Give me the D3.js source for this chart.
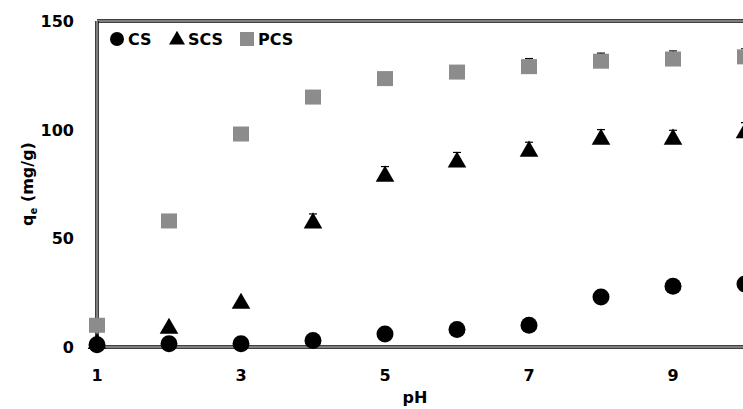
<!DOCTYPE html>
<html>
<head>
<meta charset="utf-8">
<script src="https://cdn.jsdelivr.net/npm/d3@7"></script>
<style>
  body { margin: 0; background: #fff; }
  text { font-family: "DejaVu Sans", sans-serif; font-weight: bold; }
</style>
</head>
<body>
<div id="chart"></div>
<script>
// data
var ph = [1, 2, 3, 4, 5, 6, 7, 8, 9, 10];
var cs = [1, 1.5, 1.5, 3, 6, 8, 10, 23, 28, 29];
var scs = [2, 9, 20.5, 57.5, 79, 85.5, 90.5, 96, 96, 99];
var pcs = [10, 58, 98, 115, 123.5, 126.5, 129, 131.5, 132.5, 133.5];
var scsErr = [0, 0, 0, 0.5, 0.8, 0.8, 0.5, 0.8, 0.5, 1];
var pcsErr = [0, 0, 0, 0, 0, 0, 0.5, 0.5, 0.5, 0.5];
var xTicks = [1, 3, 5, 7, 9];
var yTicks = [0, 50, 100, 150];

var svgWidth = 743, svgHeight = 409;
var svg = d3.select('#chart').append('svg')
  .attr('width', svgWidth).attr('height', svgHeight);

var x = d3.scaleLinear().domain([1, 11]).range([97, 817]);
var y = d3.scaleLinear().domain([0, 150]).range([347, 21]);

// y tick labels
svg.selectAll('.ytick').data(yTicks).enter().append('text')
  .attr('x', 74).attr('y', function(d) { return y(d) + 6; })
  .attr('text-anchor', 'end').style('font-size', '16px')
  .text(function(d) { return d; });

// x tick labels
svg.selectAll('.xtick').data(xTicks).enter().append('text')
  .attr('x', function(d) { return x(d); }).attr('y', 381)
  .attr('text-anchor', 'middle').style('font-size', '16px')
  .text(function(d) { return d; });

// axis titles
svg.append('text').attr('x', 415).attr('y', 403)
  .attr('text-anchor', 'middle').style('font-size', '16px').text('pH');
var yl = svg.append('text')
  .attr('transform', 'translate(33,' + 184 + ') rotate(-90)')
  .attr('text-anchor', 'middle').style('font-size', '16px');
yl.append('tspan').text('q');
yl.append('tspan').attr('dy', 4).style('font-size', '10px').text('e');
yl.append('tspan').attr('dy', -4).text(' (mg/g)');

// double frame lines
function dbl(x1, y1, x2, y2) {
  svg.append('line').attr('x1', x1).attr('y1', y1).attr('x2', x2).attr('y2', y2)
    .attr('stroke', '#000').attr('stroke-width', 3.5);
  svg.append('line').attr('x1', x1).attr('y1', y1).attr('x2', x2).attr('y2', y2)
    .attr('stroke', '#aaa').attr('stroke-width', 1.5);
}
dbl(x(1), y(150), 743, y(150));
dbl(x(1), y(150), x(1), y(0));
dbl(x(1), y(0), 743, y(0));

// error bars (top caps)
function errBars(vals, errs) {
  var g = svg.append('g');
  vals.forEach(function(v, i) {
    if (!errs[i]) return;
    var top = y(v + errs[i]) - 7;
    g.append('line').attr('x1', x(ph[i])).attr('x2', x(ph[i]))
      .attr('y1', y(v)).attr('y2', top).attr('stroke', '#000');
    g.append('line').attr('x1', x(ph[i]) - 4).attr('x2', x(ph[i]) + 4)
      .attr('y1', top).attr('y2', top)
      .attr('stroke', '#000').attr('stroke-width', 1.2);
  });
}
errBars(scs, scsErr);
errBars(pcs, pcsErr);

var tri = d3.symbol().type(d3.symbolTriangle).size(150);

// PCS squares
svg.selectAll('.pcs').data(pcs).enter().append('rect')
  .attr('x', function(d, i) { return x(ph[i]) - 8; })
  .attr('y', function(d) { return y(d) - 7.5; })
  .attr('width', 16).attr('height', 15).attr('fill', '#8c8c8c');

// SCS triangles
svg.selectAll('.scs').data(scs).enter().append('path')
  .attr('d', tri)
  .attr('transform', function(d, i) { return 'translate(' + x(ph[i]) + ',' + (y(d) + 1) + ')'; })
  .attr('fill', '#000');

// CS circles
svg.selectAll('.cs').data(cs).enter().append('circle')
  .attr('cx', function(d, i) { return x(ph[i]); })
  .attr('cy', function(d) { return y(d); })
  .attr('r', 8.5).attr('fill', '#000');

// legend
var lg = svg.append('g').attr('transform', 'translate(0,39)');
lg.append('circle').attr('cx', 117).attr('cy', 0).attr('r', 7).attr('fill', '#000');
lg.append('text').attr('x', 128).attr('y', 6).style('font-size', '16px').text('CS');
lg.append('path').attr('d', d3.symbol().type(d3.symbolTriangle).size(110))
  .attr('transform', 'translate(177,1)').attr('fill', '#000');
lg.append('text').attr('x', 188).attr('y', 6).style('font-size', '16px').text('SCS');
lg.append('rect').attr('x', 240).attr('y', -7).attr('width', 14).attr('height', 14).attr('fill', '#8c8c8c');
lg.append('text').attr('x', 258).attr('y', 6).style('font-size', '16px').text('PCS');
</script>
</body>
</html>
